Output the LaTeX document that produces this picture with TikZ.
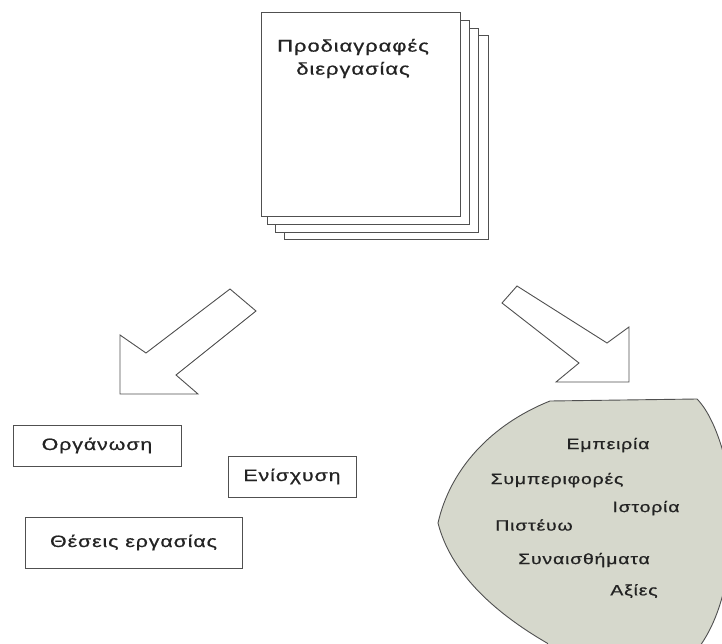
\documentclass[tikz,border=0pt]{standalone}
\usepackage{fontspec}
\usepackage{graphicx}
\setmainfont{Liberation Sans}[LetterSpace=4,FakeBold=0.6]
% wide setting used for every label
\newcommand\widetxt[1]{\scalebox{1.3}[1]{#1}}
\definecolor{inkgray}{RGB}{35,35,35}
\definecolor{edgegray}{RGB}{80,80,80}
\definecolor{blobfill}{RGB}{214,216,204}
\begin{document}
\begin{tikzpicture}[x=1pt,y=-1pt,
  page/.style={draw=edgegray,line width=0.9pt,fill=white},
  blockarrow/.style={draw=edgegray,line width=0.9pt,fill=white,line join=miter},
  labelbox/.style={draw=edgegray,line width=0.9pt,fill=white,inner sep=0pt,
    text=inkgray,font=\fontsize{16.5}{20}\selectfont},
  spectext/.style={text=inkgray,font=\fontsize{17}{23}\selectfont,align=center,inner sep=0pt},
  blobtext/.style={text=inkgray,font=\fontsize{15}{18}\selectfont,inner sep=0pt}]
\useasboundingbox (0,0) rectangle (722,644);
\begin{scope}
\clip (0,0) rectangle (722,644);

% stack of specification sheets, back to front
\filldraw[page] (284,35) rectangle (488,239);
\filldraw[page] (275,28) rectangle (478,232);
\filldraw[page] (267,20) rectangle (469,224);
\filldraw[page] (261,12) rectangle (460,216);
\node[spectext] (spec) at (353,58.5) {\widetxt{Προδιαγραφές}\\\widetxt{διεργασίας}};

% block arrow towards the organisational side
\filldraw[blockarrow] (230,289) -- (256,311) -- (176,375) -- (198,394)
  -- (120,394) -- (120,335) -- (146,353) -- cycle;

% block arrow towards the cultural side
\filldraw[blockarrow] (502,303) -- (517,286) -- (607,343) -- (629,327)
  -- (629,382) -- (556,382) -- (579,363) -- cycle;

% organisational elements
\node[labelbox,minimum width=168pt,minimum height=41pt] (org) at (97,445.5) {\widetxt{Οργάνωση}};
\node[labelbox,minimum width=128pt,minimum height=41pt] (enisx) at (292,476.5) {\widetxt{Ενίσχυση}};
\node[labelbox,minimum width=217pt,minimum height=51pt] (theseis) at (133.5,542.5) {\widetxt{Θέσεις εργασίας}};

% cultural elements
\filldraw[draw=edgegray,line width=0.9pt,fill=blobfill]
  (550,401) -- (697,399)
  .. controls (718,420) and (735,480) .. (732,530)
  .. controls (729,585) and (718,620) .. (700,646)
  -- (690,660) -- (560,660) -- (547,643)
  .. controls (490,610) and (450,570) .. (438,523)
  .. controls (450,470) and (490,425) .. cycle;
\node[blobtext] (emp) at (608,445) {\widetxt{Εμπειρία}};
\node[blobtext] (sym) at (557,480) {\widetxt{Συμπεριφορές}};
\node[blobtext] (ist) at (646,508) {\widetxt{Ιστορία}};
\node[blobtext] (pist) at (534,525) {\widetxt{Πιστέυω}};
\node[blobtext] (syn) at (584,560) {\widetxt{Συναισθήματα}};
\node[blobtext] (axi) at (634,591) {\widetxt{Αξίες}};
\end{scope}
\end{tikzpicture}
\end{document}
